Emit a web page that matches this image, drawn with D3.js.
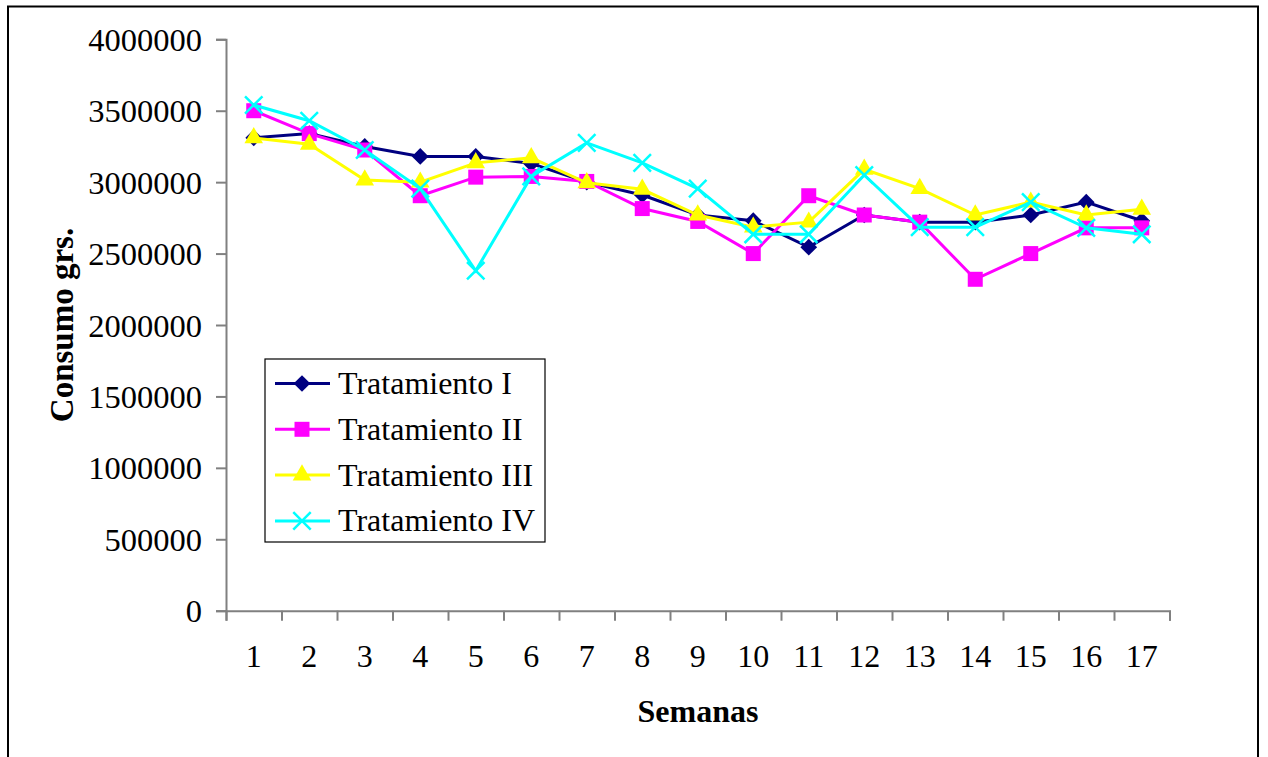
<!DOCTYPE html>
<html>
<head>
<meta charset="utf-8">
<script src="https://cdn.jsdelivr.net/npm/d3@7"></script>
<style>
  body { margin: 0; background: #fff; }
  svg text { font-family: "Liberation Serif", "Times New Roman", serif !important; fill: #000; }
</style>
</head>
<body>
<script>
// semanas 1..17
const semanas = ['1', '2', '3', '4', '5', '6', '7', '8', '9', '10', '11', '12', '13', '14', '15', '16', '17'];

const tratI   = [3310000, 3340000, 3250000, 3180000, 3180000, 3130000, 3000000, 2910000, 2770000, 2730000, 2545000, 2770000, 2720000, 2720000, 2770000, 2860000, 2730000];
const tratII  = [3500000, 3340000, 3225000, 2905000, 3035000, 3040000, 3005000, 2815000, 2725000, 2500000, 2905000, 2770000, 2720000, 2320000, 2500000, 2680000, 2680000];
const tratIII = [3310000, 3265000, 3015000, 3000000, 3135000, 3170000, 2995000, 2950000, 2770000, 2685000, 2720000, 3090000, 2955000, 2770000, 2860000, 2770000, 2810000];
const tratIV  = [3540000, 3430000, 3225000, 2955000, 2380000, 3040000, 3275000, 3135000, 2955000, 2635000, 2635000, 3050000, 2685000, 2685000, 2860000, 2680000, 2635000];

const nombres = ['Tratamiento I', 'Tratamiento II', 'Tratamiento III', 'Tratamiento IV'];
const yTicks = [0, 500000, 1000000, 1500000, 2000000, 2500000, 3000000, 3500000, 4000000];

const series = [
    { name: nombres[0], values: tratI, color: '#000080', marker: 'diamond' },
    { name: nombres[1], values: tratII, color: '#ff00ff', marker: 'square' },
    { name: nombres[2], values: tratIII, color: '#ffff00', marker: 'triangle' },
    { name: nombres[3], values: tratIV, color: '#00ffff', marker: 'x' }
];

const serif = '"Liberation Serif", "Times New Roman", serif';

const svg = d3.select('body')
    .append('svg')
    .attr('width', 1268)
    .attr('height', 757);

svg.append('rect')
    .attr('width', 1268)
    .attr('height', 757)
    .attr('fill', '#fff');

// outer frame (bottom edge is off the picture)
svg.append('rect')
    .attr('x', 8)
    .attr('y', 6.5)
    .attr('width', 1250)
    .attr('height', 780)
    .attr('fill', 'none')
    .attr('stroke', '#000')
    .attr('stroke-width', 2);

const plotLeft = 226, plotRight = 1169.5, plotTop = 39.3, plotBottom = 610.7;

const x = d3.scaleBand()
    .domain(semanas)
    .range([plotLeft, plotRight])
    .padding(0);

const xEdge = d3.scaleLinear()
    .domain([0, semanas.length])
    .range([plotLeft, plotRight]);

const y = d3.scaleLinear()
    .domain([0, 4000000])
    .range([plotBottom, plotTop]);

const cx = i => x(semanas[i]) + x.bandwidth() / 2;

// y axis
const yAxis = svg.append('g')
    .attr('transform', `translate(${plotLeft}, 0)`)
    .call(d3.axisLeft(y)
        .tickValues(yTicks)
        .tickFormat(d3.format('d'))
        .tickSize(10)
        .tickPadding(14));
yAxis.attr('font-family', null).attr('font-size', null);
yAxis.selectAll('text').style('font-size', '32.5px').style('font-family', serif).attr('dy', '0.34em');

// x axis: ticks at category edges, labels at centres
const xAxis = svg.append('g')
    .attr('transform', `translate(0, ${plotBottom})`)
    .call(d3.axisBottom(xEdge)
        .tickValues(d3.range(0, semanas.length + 1))
        .tickFormat('')
        .tickSize(10));

const xLabels = svg.append('g')
    .attr('transform', `translate(0, ${plotBottom})`)
    .call(d3.axisBottom(x).tickSize(0).tickPadding(34));
xLabels.attr('font-family', null).attr('font-size', null);
xLabels.select('.domain').remove();
xLabels.selectAll('text').style('font-size', '32px').style('font-family', serif);

svg.selectAll('.domain, .tick line').attr('stroke', '#808080').attr('stroke-width', 2);

// axis titles
svg.append('text')
    .attr('x', 698)
    .attr('y', 722)
    .attr('text-anchor', 'middle')
    .style('font-size', '32px')
    .attr('font-weight', 'bold')
    .text('Semanas');

svg.append('text')
    .attr('transform', `translate(73, ${(plotTop + plotBottom) / 2}) rotate(-90)`)
    .attr('text-anchor', 'middle')
    .style('font-size', '33px')
    .attr('font-weight', 'bold')
    .text('Consumo grs.');

function drawMarker(g, type, color) {
    if (type === 'diamond') {
        g.append('path')
            .attr('d', d3.symbol(d3.symbolSquare, 140)())
            .attr('transform', 'rotate(45)')
            .attr('fill', color);
    } else if (type === 'square') {
        g.append('path')
            .attr('d', d3.symbol(d3.symbolSquare, 225)())
            .attr('fill', color);
    } else if (type === 'triangle') {
        g.append('path')
            .attr('d', d3.symbol(d3.symbolTriangle, 150)())
            .attr('fill', color);
    } else {
        g.append('path')
            .attr('d', d3.symbol(d3.symbolTimes, 200)())
            .attr('fill', 'none')
            .attr('stroke', color)
            .attr('stroke-width', 2.5);
    }
}

const line = d3.line()
    .x((d, i) => cx(i))
    .y(d => y(d));

series.forEach(s => {
    const g = svg.append('g');
    g.append('path')
        .attr('d', line(s.values))
        .attr('fill', 'none')
        .attr('stroke', s.color)
        .attr('stroke-width', 3);
    s.values.forEach((v, i) => {
        const m = g.append('g').attr('transform', `translate(${cx(i)}, ${y(v)})`);
        drawMarker(m, s.marker, s.color);
    });
});

// legend
const legend = svg.append('g');
legend.append('rect')
    .attr('x', 265)
    .attr('y', 359)
    .attr('width', 280)
    .attr('height', 183)
    .attr('fill', '#fff')
    .attr('stroke', '#000')
    .attr('stroke-width', 1.2);

series.forEach((s, i) => {
    const ry = 383.5 + i * 45.8;
    legend.append('line')
        .attr('x1', 275)
        .attr('x2', 330)
        .attr('y1', ry)
        .attr('y2', ry)
        .attr('stroke', s.color)
        .attr('stroke-width', 3);
    const m = legend.append('g').attr('transform', `translate(302, ${ry})`);
    drawMarker(m, s.marker, s.color);
    legend.append('text')
        .attr('x', 338)
        .attr('y', ry + 10.5)
        .style('font-size', '32px')
        .text(s.name);
});
</script>
</body>
</html>
